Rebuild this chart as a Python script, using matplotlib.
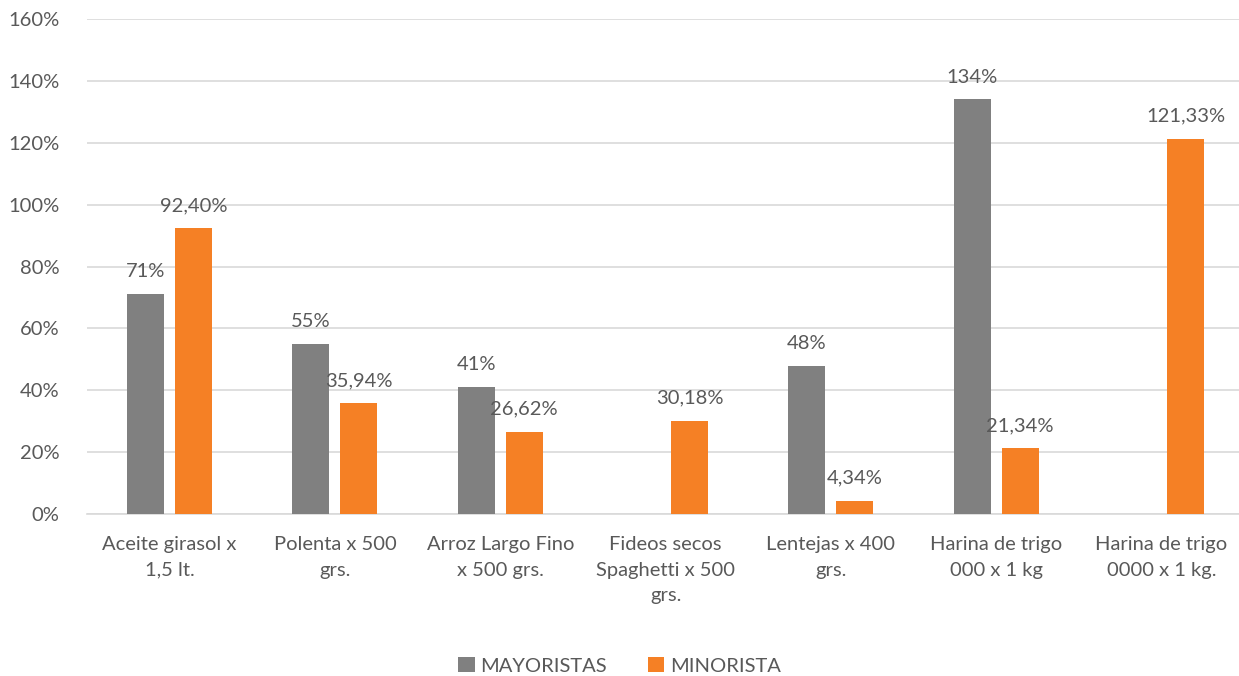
import numpy as np
import matplotlib.pyplot as plt

plt.rcParams['font.family'] = ['Lato', 'DejaVu Sans']

categorias = ["Aceite girasol x\n1,5 lt.", "Polenta x 500\ngrs.", "Arroz Largo Fino\nx 500 grs.",
              "Fideos secos\nSpaghetti x 500\ngrs.", "Lentejas x 400\ngrs.",
              "Harina de trigo\n000 x 1 kg", "Harina de trigo\n0000 x 1 kg."]
mayoristas = [71, 55, 41, np.nan, 48, 134, np.nan]
minorista = [92.40, 35.94, 26.62, 30.18, 4.34, 21.34, 121.33]

gris = '#808080'
naranja = '#F58025'
texto = '#595959'

fig = plt.figure(figsize=(12.39, 6.76), dpi=100)
ax = fig.add_axes([0.0702, 0.2396, 0.934, 0.7323])

x = np.arange(len(categorias))
ancho = 0.224
off = 0.145
ax.bar(x - off, np.nan_to_num(mayoristas), ancho, color=gris, label='MAYORISTAS', zorder=3)
ax.bar(x + off, minorista, ancho, color=naranja, label='MINORISTA', zorder=3)

# etiquetas sobre las barras
for i in range(len(x)):
    if not np.isnan(mayoristas[i]):
        ax.annotate(f"{mayoristas[i]:.0f}%", (x[i] - off, mayoristas[i]), xytext=(0, 10),
                    textcoords='offset points', ha='center', va='bottom', fontsize=14.5, color=texto)
    ax.annotate(f"{minorista[i]:.2f}%".replace('.', ','), (x[i] + off, minorista[i]), xytext=(0, 10),
                textcoords='offset points', ha='center', va='bottom', fontsize=14.5, color=texto)

ax.set_xlim(-0.5, len(categorias) - 0.5)
ax.set_ylim(0, 160)
ax.set_yticks(np.arange(0, 161, 20))
ax.set_yticklabels([f"{v}%" for v in range(0, 161, 20)])
ax.set_xticks(x)
ax.set_xticklabels(categorias, linespacing=1.6)
ax.tick_params(axis='both', length=0, labelsize=14.5, colors=texto)
ax.tick_params(axis='x', pad=16)
ax.tick_params(axis='y', pad=20)
ax.grid(axis='y', color='#d9d9d9', linewidth=1.2, zorder=0)
for s in ['top', 'right', 'left']:
    ax.spines[s].set_visible(False)
ax.spines['bottom'].set_color('#d9d9d9')
ax.spines['bottom'].set_linewidth(1.2)

fig.legend(loc='lower center', bbox_to_anchor=(0.5, -0.025), ncol=2, frameon=False,
           fontsize=14.5, handlelength=0.8, handleheight=0.8, handletextpad=0.3,
           columnspacing=2.0, labelcolor=texto)

fig.savefig('out.png', dpi=100)
